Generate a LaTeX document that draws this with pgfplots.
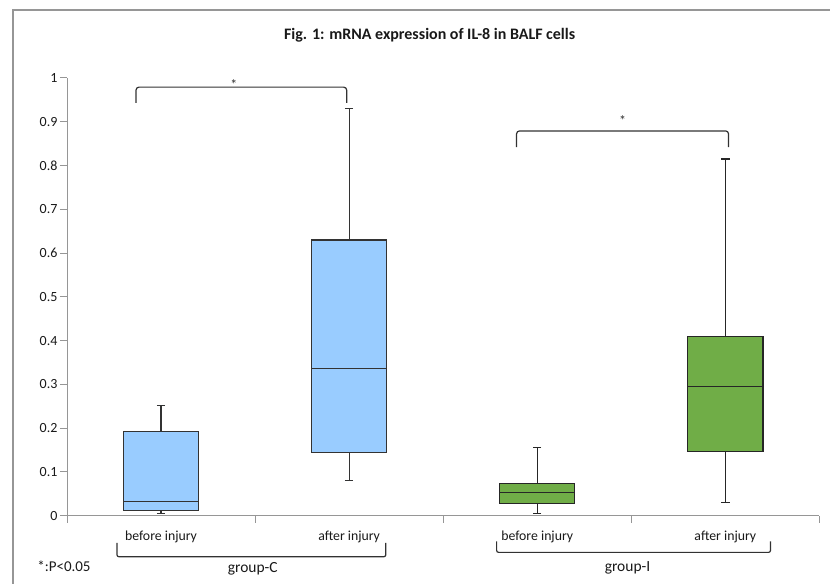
\documentclass[border=0pt]{standalone}
\usepackage{pgfplots}
\pgfplotsset{compat=1.18}
\usepgfplotslibrary{statistics}
\usepackage{fontspec}
\setmainfont{Carlito}
\definecolor{boxblue}{RGB}{153,204,255}
\definecolor{boxgreen}{RGB}{112,173,71}
\definecolor{axgray}{RGB}{150,150,150}
\definecolor{brk}{RGB}{50,50,50}
\begin{document}
\begin{tikzpicture}[x=1pt,y=1pt]
\path (-67,-68) rectangle (764,516);
\draw[axgray, line width=1.2pt] (-54,-68) -- (-54,506) -- (764,506);
\begin{axis}[name=ax, at={(0,0)}, anchor=south west, scale only axis,
  width=753pt, height=438pt,
  xmin=-0.5, xmax=3.5, ymin=0, ymax=1,
  axis x line=bottom, axis y line=left,
  axis line style={axgray,-, line width=0.9pt},
  xtick={-0.5,0.5,1.5,2.5,3.5}, xticklabels={},
  ytick={0,0.1,0.2,0.3,0.4,0.5,0.6,0.7,0.8,0.9,1},
  yticklabels={0,0.1,0.2,0.3,0.4,0.5,0.6,0.7,0.8,0.9,1},
  yticklabel style={font=\fontsize{14}{16}\selectfont, text=black!90, xshift=1pt},
  tick style={axgray, line width=0.9pt}, tick align=outside, major tick length=7pt,
  clip=false,
  boxplot/draw direction=y,
  every axis plot/.append style={line width=1.25pt},
]
\addplot[draw=black!80, fill=boxblue, boxplot prepared={draw position=0,
  lower whisker=0.005, lower quartile=0.011, median=0.032,
  upper quartile=0.192, upper whisker=0.251, box extend=0.4, whisker extend=0.045}]
  coordinates {};
\addplot[draw=black!80, fill=boxblue, boxplot prepared={draw position=1,
  lower whisker=0.08, lower quartile=0.144, median=0.336,
  upper quartile=0.630, upper whisker=0.930, box extend=0.4, whisker extend=0.045}]
  coordinates {};
\addplot[draw=black!85, fill=boxgreen, boxplot prepared={draw position=2,
  lower whisker=0.005, lower quartile=0.027, median=0.053,
  upper quartile=0.073, upper whisker=0.155, box extend=0.4, whisker extend=0.045}]
  coordinates {};
\addplot[draw=black!85, fill=boxgreen, boxplot prepared={draw position=3,
  lower whisker=0.03, lower quartile=0.146, median=0.295,
  upper quartile=0.409, upper whisker=0.815, box extend=0.4, whisker extend=0.045}]
  coordinates {};

% significance brackets
\draw[brk, line width=1.2pt, rounded corners=3pt] (axis cs:-0.133,0.943) -- (axis cs:-0.133,0.979) -- (axis cs:0.987,0.979) -- (axis cs:0.987,0.943);
\node[font=\fontsize{14}{15}\selectfont, text=brk] at (axis cs:0.387,0.985) {*};
\draw[brk, line width=1.2pt, rounded corners=3pt] (axis cs:1.890,0.842) -- (axis cs:1.890,0.879) -- (axis cs:3.017,0.879) -- (axis cs:3.017,0.842);
\node[font=\fontsize{14}{15}\selectfont, text=brk] at (axis cs:2.454,0.903) {*};

% category labels
\foreach \xx/\tt in {0/before injury,1/after injury,2/before injury,3/after injury}{
  \edef\tmp{\noexpand\node[font=\noexpand\fontsize{13.8}{15}\noexpand\selectfont, text=black!90] at (axis cs:\xx,-0.048) {\tt};}
  \tmp
}
\draw[brk, line width=1.2pt, rounded corners=2pt] (axis cs:-0.234,-0.062) -- (axis cs:-0.234,-0.094) -- (axis cs:1.195,-0.094) -- (axis cs:1.195,-0.062);
\draw[brk, line width=1.2pt, rounded corners=2pt] (axis cs:1.784,-0.059) -- (axis cs:1.784,-0.084) -- (axis cs:3.240,-0.084) -- (axis cs:3.240,-0.059);
\node[font=\fontsize{15.5}{17}\selectfont, text=black!90] at (axis cs:0.488,-0.122) {group-C};
\node[font=\fontsize{15.5}{17}\selectfont, text=black!90] at (axis cs:2.48,-0.120) {group-I};
\node[font=\fontsize{15}{17}\selectfont, text=black!90] at (axis cs:-0.516,-0.116) {*:P<0.05};
\node[font=\bfseries\fontsize{16}{18}\selectfont, text=black!90] at (axis cs:1.428,1.098) {Fig. 1: mRNA expression of IL-8 in BALF cells};
\end{axis}
\end{tikzpicture}
\end{document}
